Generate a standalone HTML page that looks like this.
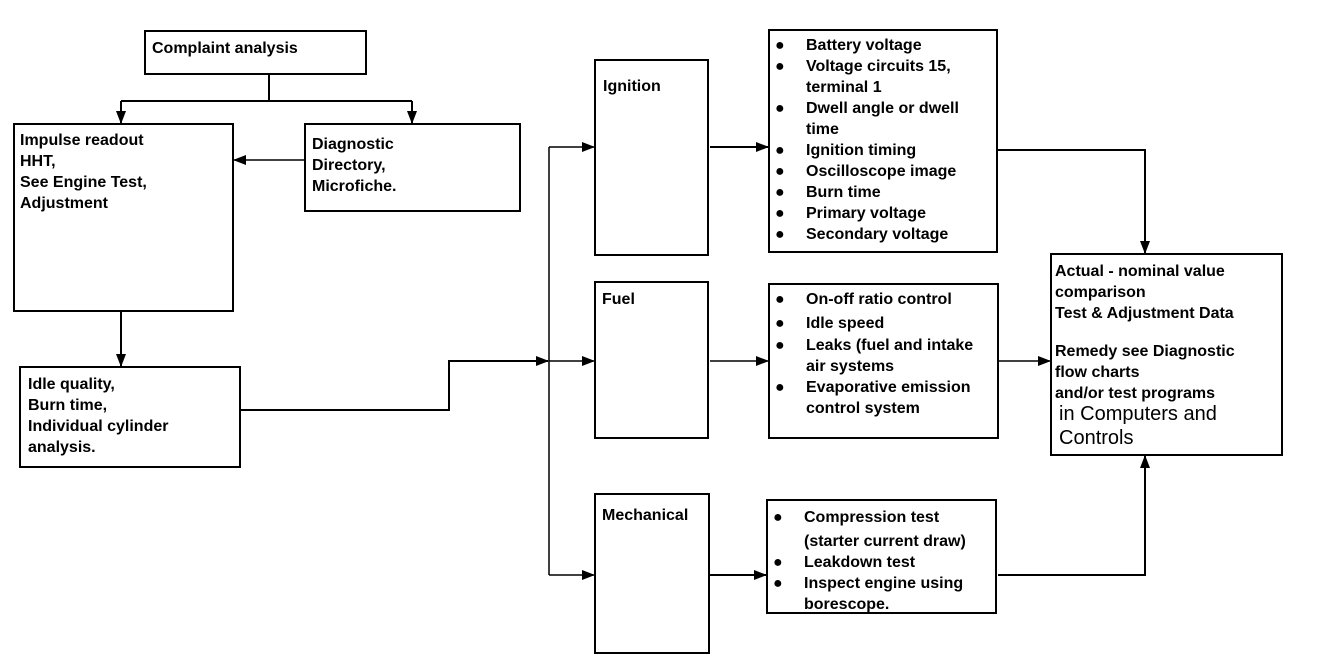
<!DOCTYPE html>
<html><head><meta charset="utf-8"><style>
html,body{margin:0;padding:0;background:#fff;}
svg{display:block;}
text{font-family:"Liberation Sans",Arial,sans-serif;font-size:16px;font-weight:bold;fill:#000;}
</style></head><body>
<svg width="1328" height="668" viewBox="0 0 1328 668" xmlns="http://www.w3.org/2000/svg">
<defs><marker id="a" markerWidth="13" markerHeight="10" refX="12" refY="5" orient="auto" markerUnits="userSpaceOnUse"><path d="M0,0 L13,5 L0,10 z" fill="#000"/></marker></defs>
<g fill="none" stroke="#000" stroke-width="2">
<rect x="145" y="31" width="221" height="43"/>
<rect x="14" y="124" width="219" height="187"/>
<rect x="305" y="124" width="215" height="87"/>
<rect x="20" y="367" width="220" height="100"/>
<rect x="595" y="60" width="113" height="195"/>
<rect x="595" y="282" width="113" height="156"/>
<rect x="595" y="494" width="114" height="159"/>
<rect x="769" y="30" width="228" height="222"/>
<rect x="769" y="284" width="229" height="154"/>
<rect x="767" y="500" width="229" height="113"/>
<rect x="1051" y="254" width="231" height="201"/>
<polyline points="269,74 269,101"/>
<polyline points="121,101 412,101"/>
<line x1="121" y1="101" x2="121" y2="123" marker-end="url(#a)"/>
<line x1="412" y1="101" x2="412" y2="123" marker-end="url(#a)"/>
<line x1="305" y1="160" x2="234" y2="160" stroke-width="1.5" marker-end="url(#a)"/>
<line x1="121" y1="311" x2="121" y2="366" marker-end="url(#a)"/>
<polyline points="240,410 449,410 449,361 548,361" marker-end="url(#a)"/>
<line x1="549" y1="147" x2="549" y2="575" stroke-width="1.5"/>
<line x1="549" y1="147" x2="594" y2="147" stroke-width="1.5" marker-end="url(#a)"/>
<line x1="549" y1="361" x2="594" y2="361" stroke-width="1.5" marker-end="url(#a)"/>
<line x1="549" y1="575" x2="594" y2="575" stroke-width="1.5" marker-end="url(#a)"/>
<line x1="710" y1="147" x2="768" y2="147" marker-end="url(#a)"/>
<line x1="710" y1="361" x2="768" y2="361" stroke-width="1.5" marker-end="url(#a)"/>
<line x1="710" y1="575" x2="766" y2="575" marker-end="url(#a)"/>
<polyline points="997,150 1145,150 1145,253" marker-end="url(#a)"/>
<line x1="998" y1="361" x2="1050" y2="361" stroke-width="1.5" marker-end="url(#a)"/>
<polyline points="998,575 1145,575 1145,456" marker-end="url(#a)"/>
</g>
<g>
<text x="152" y="53">Complaint analysis</text>
<text x="20" y="145">Impulse readout</text>
<text x="20" y="166">HHT,</text>
<text x="20" y="187">See Engine Test,</text>
<text x="20" y="208">Adjustment</text>
<text x="312" y="149">Diagnostic</text>
<text x="312" y="170">Directory,</text>
<text x="312" y="191">Microfiche.</text>
<text x="28" y="389">Idle quality,</text>
<text x="28" y="410">Burn time,</text>
<text x="28" y="431">Individual cylinder</text>
<text x="28" y="452">analysis.</text>
<text x="603" y="91">Ignition</text>
<text x="602" y="304">Fuel</text>
<text x="602" y="520">Mechanical</text>
</g>
<g>
<text x="775" y="50">●</text><text x="806" y="50">Battery voltage</text>
<text x="775" y="71">●</text><text x="806" y="71">Voltage circuits 15,</text>
<text x="806" y="92">terminal 1</text>
<text x="775" y="113">●</text><text x="806" y="113">Dwell angle or dwell</text>
<text x="806" y="134">time</text>
<text x="775" y="155">●</text><text x="806" y="155">Ignition timing</text>
<text x="775" y="176">●</text><text x="806" y="176">Oscilloscope image</text>
<text x="775" y="197">●</text><text x="806" y="197">Burn time</text>
<text x="775" y="218">●</text><text x="806" y="218">Primary voltage</text>
<text x="775" y="239">●</text><text x="806" y="239">Secondary voltage</text>
<text x="775" y="304">●</text><text x="806" y="304">On-off ratio control</text>
<text x="775" y="328">●</text><text x="806" y="328">Idle speed</text>
<text x="775" y="350">●</text><text x="806" y="350">Leaks (fuel and intake</text>
<text x="806" y="371">air systems</text>
<text x="775" y="392">●</text><text x="806" y="392">Evaporative emission</text>
<text x="806" y="413">control system</text>
<text x="773" y="522">●</text><text x="804" y="522">Compression test</text>
<text x="804" y="546">(starter current draw)</text>
<text x="773" y="567">●</text><text x="804" y="567">Leakdown test</text>
<text x="773" y="588">●</text><text x="804" y="588">Inspect engine using</text>
<text x="804" y="609">borescope.</text>
</g>
<g>
<text x="1055" y="276">Actual - nominal value</text>
<text x="1055" y="297">comparison</text>
<text x="1055" y="318">Test &amp; Adjustment Data</text>
<text x="1055" y="356">Remedy see Diagnostic</text>
<text x="1055" y="377">flow charts</text>
<text x="1055" y="398">and/or test programs</text>
<text x="1059" y="420" style="font-size:20px;font-weight:normal">in Computers and</text>
<text x="1059" y="444" style="font-size:20px;font-weight:normal">Controls</text>
</g>
</svg>
</body></html>
